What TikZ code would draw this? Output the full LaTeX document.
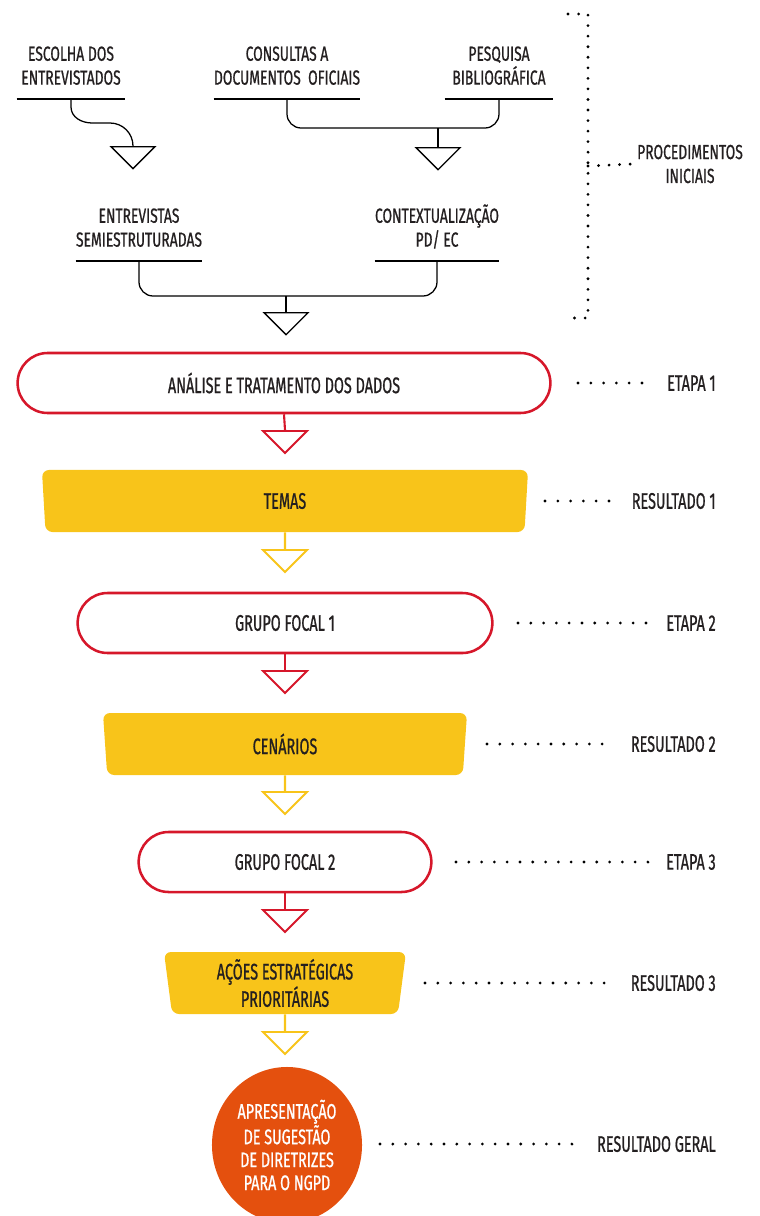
\documentclass[tikz,border=0pt]{standalone}
\usepackage{fontspec}
\setmainfont{Fira Sans}[FakeStretch=0.64, FakeBold=0.8]
\newfontfamily\largofont{Fira Sans}[FakeStretch=0.68, FakeBold=0.8]
\usetikzlibrary{shapes.misc}
\usetikzlibrary{shapes.geometric, positioning}

\definecolor{vermelho}{HTML}{D6172A}
\definecolor{amarelo}{HTML}{F8C41A}
\definecolor{laranja}{HTML}{E4500E}
\definecolor{texto}{HTML}{231F20}

\tikzset{
  rotulo/.style={align=center, anchor=south, minimum width=2.7cm, inner xsep=0pt, inner ysep=10pt, text depth=0pt, text=texto, font=\largofont\fontsize{14.5}{17}\selectfont},
  linha/.style={draw=black, line width=0.9pt},
  ligacao/.style={line width=1.5pt},
  seta/.style={isosceles triangle, shape border rotate=-90, isosceles triangle stretches, minimum width=1.1cm, minimum height=0.55cm, inner sep=0pt, line width=1.4pt, fill=white, anchor=lower side},
  etapa/.style={rounded rectangle, draw=vermelho, line width=1.8pt, fill=white, minimum height=1.5cm, text=texto},
  resultado/.style={trapezium, shape border rotate=180, trapezium stretches body, trapezium left angle=82, trapezium right angle=82, rounded corners=5pt, fill=amarelo, minimum height=1.55cm, text=texto, align=center, font=\fontsize{16}{17.5}\selectfont},
  final/.style={ellipse, fill=laranja, text=white, align=center, inner sep=0pt, minimum width=3.75cm, minimum height=3.9cm, font=\largofont\fontsize{15}{16.3}\selectfont},
  lado/.style={anchor=east, inner sep=0pt, text=texto},
  pontos/.style={draw=black, line width=2.2pt, line cap=round, dash pattern=on 0pt off 9.1pt, shorten >=0.4cm}
}

\begin{document}
\begin{tikzpicture}[x=0.025cm, y=-0.025cm, font=\fontsize{16}{17.5}\selectfont]
\useasboundingbox (0,0) rectangle (760,1216);

% procedimentos iniciais
\node[rotulo] (escolha) at (71,99) {ESCOLHA DOS\\ENTREVISTADOS};
\node[rotulo] (consultas) at (287,99) {CONSULTAS A\\DOCUMENTOS\ \ OFICIAIS};
\node[rotulo] (pesquisa) at (499,99) {PESQUISA\\BIBLIOGRÁFICA};
\node[rotulo] (entrevistas) at (139,261) {ENTREVISTAS\\SEMIESTRUTURADAS};
\node[rotulo] (contexto) at (437,261) {CONTEXTUALIZAÇÃO\\PD/ EC};
\foreach \n in {escolha,consultas,pesquisa,entrevistas,contexto}
  \draw[linha] (\n.south west) -- (\n.south east);

\node[seta, draw=black, line width=0.9pt] (t1) at (133,146) {};
\node[seta, draw=black, line width=0.9pt] (t2) at (438,147) {};
\node[seta, draw=black, line width=0.9pt] (t3) at (286,312) {};

\draw[linha] (escolha.south) -- ++(0,8) to[out=-90,in=180] (92,123) -- (110,123) to[out=0,in=90] (t1.lower side);
\draw[linha, rounded corners=10pt] (consultas.south) -- ++(0,29) -| (pesquisa.south);
\coordinate (j1) at (438,128);
\draw[linha] (j1) -- (t2.lower side);
\draw[linha, rounded corners=10pt] (entrevistas.south) -- ++(0,35) -| (contexto.south);
\coordinate (j2) at (286,296);
\draw[linha] (j2) -- (t3.lower side);

\node[inner xsep=3pt, align=center, text=texto, font=\largofont\fontsize{14.5}{17}\selectfont] (proc) at (690,164) {PROCEDIMENTOS\\INICIAIS};
\coordinate (c1) at (568,14);
\coordinate (c2) at (588,166);
\coordinate (c3) at (568,318);
\draw[pontos, dash pattern=on 0pt off 7.5pt, shorten >=0pt] (c1) -- (588,14) -- (588,318) -- (c3);
\draw[pontos, dash pattern=on 0pt off 7.5pt, shorten >=0pt] (c2) -- (proc.west);

% fluxo principal
\node[etapa, minimum width=13.55cm] (analise) at (284,383) {ANÁLISE E TRATAMENTO DOS DADOS};
\node[seta, draw=vermelho] (s1) at (285,430) {};
\draw[vermelho, ligacao] (analise.south) -- (s1.lower side);

\node[resultado, minimum width=12.15cm] (temas) at (285,501) {TEMAS};
\node[seta, draw=amarelo] (s2) at (285,549) {};
\draw[amarelo, ligacao] (temas.south) -- (s2.lower side);

\node[etapa, minimum width=10.6cm] (grupo1) at (285,623) {GRUPO FOCAL 1};
\node[seta, draw=vermelho] (s3) at (285,670) {};
\draw[vermelho, ligacao] (grupo1.south) -- (s3.lower side);

\node[resultado, minimum width=9.1cm] (cenarios) at (285,744) {CENÁRIOS};
\node[seta, draw=amarelo] (s4) at (285,791) {};
\draw[amarelo, ligacao] (cenarios.south) -- (s4.lower side);

\node[etapa, minimum width=7.55cm] (grupo2) at (285,862) {GRUPO FOCAL 2};
\node[seta, draw=vermelho] (s5) at (285,909) {};
\draw[vermelho, ligacao] (grupo2.south) -- (s5.lower side);

\node[resultado, minimum width=6.05cm] (acoes) at (285,983) {AÇÕES ESTRATÉGICAS\\PRIORITÁRIAS};
\node[seta, draw=amarelo] (s6) at (285,1031) {};
\draw[amarelo, ligacao] (acoes.south) -- (s6.lower side);

\node[final] (apresentacao) at (287,1145) {APRESENTAÇÃO\\DE SUGESTÃO\\DE DIRETRIZES\\PARA O NGPD};

% legendas a direita
\node[lado] (e1) at (716,383) {ETAPA 1};
\node[lado] (r1) at (716,501) {RESULTADO 1};
\node[lado] (e2) at (716,623) {ETAPA 2};
\node[lado] (r2) at (716,744) {RESULTADO 2};
\node[lado] (e3) at (716,862) {ETAPA 3};
\node[lado] (r3) at (716,983) {RESULTADO 3};
\node[lado] (rg) at (716,1144) {RESULTADO GERAL};
\coordinate (d1) at (578,383);
\coordinate (d2) at (545,501);
\coordinate (d3) at (518,623);
\coordinate (d4) at (487,744);
\coordinate (d5) at (456,862);
\coordinate (d6) at (425,983);
\coordinate (d7) at (380,1144);
\draw[pontos] (d1) -- (e1.west);
\draw[pontos] (d2) -- (r1.west);
\draw[pontos] (d3) -- (e2.west);
\draw[pontos] (d4) -- (r2.west);
\draw[pontos] (d5) -- (e3.west);
\draw[pontos] (d6) -- (r3.west);
\draw[pontos] (d7) -- (rg.west);

\end{tikzpicture}
\end{document}
